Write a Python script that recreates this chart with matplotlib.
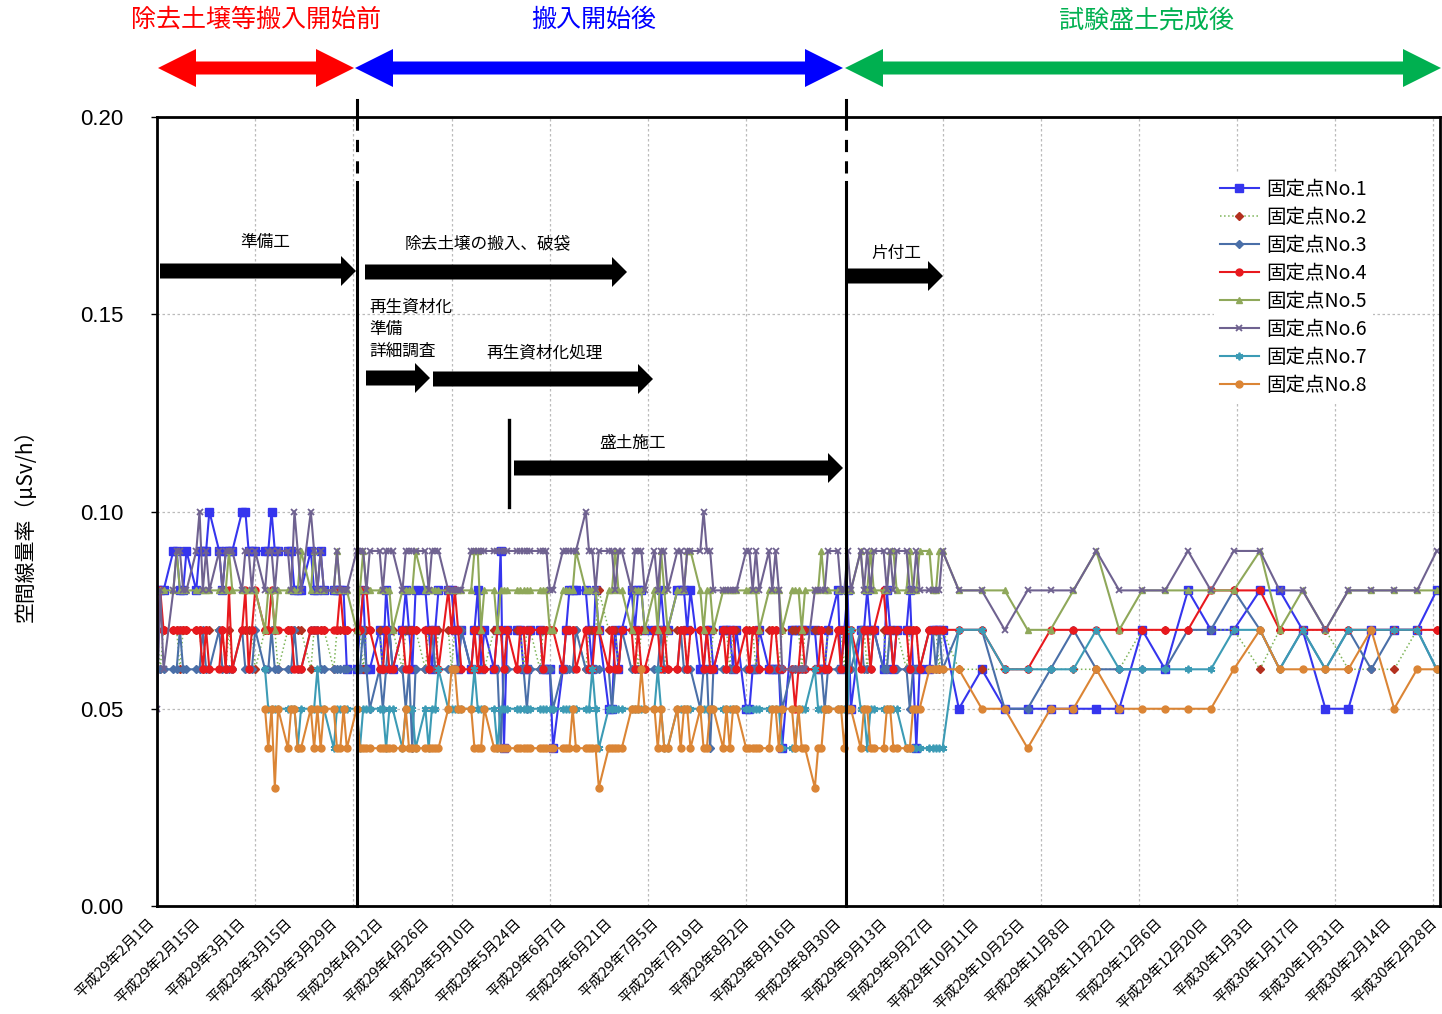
import numpy as np
import pandas as pd
import matplotlib
matplotlib.use('Agg')
import matplotlib.pyplot as plt
import matplotlib.transforms as mtransforms
from matplotlib.patches import Polygon
from matplotlib.lines import Line2D
from matplotlib.ticker import FixedLocator, FormatStrFormatter

JP = ['Noto Sans CJK JP', 'DejaVu Sans']
NUM = ['Liberation Sans', 'DejaVu Sans']
plt.rcParams['font.family'] = JP

# ---------------- data ----------------
# daily readings on business days, then weekly readings
daily_start, daily_end = '2017-02-01', '2017-09-29'
weekly_dates = ['2017-10-04', '2017-10-11', '2017-10-18', '2017-10-25', '2017-11-01',
                '2017-11-08', '2017-11-15', '2017-11-22', '2017-11-29', '2017-12-06',
                '2017-12-13', '2017-12-20', '2017-12-27', '2018-01-04', '2018-01-10',
                '2018-01-17', '2018-01-24', '2018-01-31', '2018-02-07', '2018-02-14',
                '2018-02-21', '2018-02-27']

# values in units of 0.01 uSv/h  (None = not measured)
p1_daily = [8,8,8,9,9,8,8,9,8,9,9,9,10,9,8,9,9,9,10,10,
            9,9,9,9,9,10,9,9,9,9,8,8,8,9,8,8,9,8,8,8,8,8,6,
            6,7,8,6,6,7,6,8,7,6,7,8,7,6,8,8,7,6,7,8,
            8,8,7,6,7,6,7,8,6,7,6,7,9,4,7,7,7,6,6,7,7,6,6,
            6,4,6,7,8,8,8,8,7,6,8,7,5,5,7,6,7,8,7,8,8,7,
            7,7,8,7,7,8,8,8,7,8,6,6,7,7,6,7,7,7,6,7,5,
            5,6,6,7,6,6,6,6,4,7,7,7,7,7,7,6,6,6,7,8,6,7,8,
            5,7,7,8,7,7,6,8,7,6,7,7,8,6,4,6,6,7,7,7,7]
p2_daily = [7,6,7,7,7,6,7,7,7,7,6,7,7,7,7,6,7,6,7,7,
            7,7,6,7,7,7,7,6,7,7,7,7,7,6,7,7,7,7,6,7,7,7,7,
            7,7,6,7,7,7,6,7,7,7,6,7,7,7,7,6,7,7,6,7,
            7,6,7,7,7,6,7,7,7,6,7,7,7,6,7,7,7,6,7,7,6,7,7,
            7,7,6,7,7,7,7,6,7,7,7,8,7,7,7,6,7,7,7,6,7,7,
            7,7,7,6,7,7,7,7,6,7,7,7,7,6,7,7,7,6,7,7,7,
            7,7,6,7,7,7,7,6,7,7,7,7,6,7,7,7,7,6,7,7,7,6,7,
            7,7,7,6,7,7,7,6,7,7,7,6,7,7,7,6,7,7,7,6,7]
p3_daily = [6,6,6,6,6,7,6,6,6,6,7,6,6,7,6,6,6,6,7,6,
            6,6,7,6,6,7,6,6,6,6,7,6,6,7,7,7,6,6,6,6,6,6,6,
            6,6,7,6,5,6,5,6,7,6,6,5,6,4,6,6,6,7,6,6,
            6,6,6,6,7,6,6,6,6,6,6,6,4,6,6,6,6,6,5,6,6,6,6,
            6,5,6,6,6,6,7,6,6,6,6,6,6,5,6,6,7,6,6,6,6,6,
            6,6,7,6,6,6,7,6,6,6,5,6,6,4,6,6,6,6,6,6,6,
            6,6,6,6,6,6,6,6,5,6,6,6,6,6,6,6,6,5,6,6,6,6,6,
            6,7,6,6,6,7,6,6,7,6,6,6,5,6,6,6,7,7,6,7,6]
p4_daily = [7,8,7,7,7,7,7,7,7,7,6,7,6,6,7,6,8,6,7,8,
            6,7,8,7,7,8,7,7,7,7,6,6,6,7,7,7,7,7,7,7,8,7,7,
            7,7,8,8,7,6,6,7,6,6,7,6,6,7,7,7,6,7,7,6,
            8,7,8,7,6,6,7,6,7,6,6,7,7,6,7,6,7,7,6,7,7,6,7,
            7,7,6,7,7,7,6,7,6,6,7,7,6,7,6,6,7,7,6,7,6,6,
            7,7,6,7,6,6,7,7,6,7,7,6,7,6,6,7,6,7,7,6,7,
            6,7,7,6,6,7,7,6,6,6,5,6,7,6,6,6,7,6,6,7,6,7,6,
            7,6,7,7,6,7,8,7,7,6,7,7,6,7,7,6,7,7,7,7,7]
p5_daily = [8,8,8,8,9,8,8,8,8,8,8,8,8,8,8,8,9,8,8,8,
            8,8,8,7,8,8,7,8,8,8,8,8,9,8,9,8,8,8,8,9,8,8,8,
            7,8,9,8,8,8,8,8,8,7,8,8,8,8,9,8,8,8,8,8,
            8,8,8,8,8,8,9,9,7,8,8,7,8,8,8,8,8,8,8,8,8,8,8,
            7,7,8,8,8,8,9,8,8,8,8,7,8,8,9,8,8,7,8,8,8,7,
            8,7,9,8,7,8,8,8,9,9,8,7,8,8,7,8,8,8,8,8,8,
            8,8,8,7,8,8,8,8,7,8,8,8,7,8,8,8,9,8,8,8,8,8,8,
            8,9,8,8,9,8,8,8,9,9,8,8,9,8,8,9,9,8,8,9,9]
p6_daily = [5,8,6,8,9,9,8,8,9,10,8,9,8,9,8,9,9,9,8,9,
            9,8,9,8,9,9,8,9,9,8,10,9,8,10,9,8,9,8,8,9,8,8,8,
            9,9,9,8,9,9,8,9,9,9,8,9,9,9,9,9,8,9,9,9,
            8,8,8,8,8,9,9,9,9,9,9,9,9,9,9,9,9,9,9,9,9,9,9,
            8,8,9,9,9,9,9,10,9,9,8,9,9,9,8,9,9,8,9,9,9,8,
            9,8,9,9,8,9,9,8,9,9,9,10,9,9,8,8,8,8,8,8,9,
            9,8,9,8,9,8,9,8,6,6,6,6,6,6,8,8,8,8,9,9,8,8,9,
            8,9,8,9,8,9,9,8,9,8,9,9,8,8,9,8,8,8,8,8,9]
p7_daily = [None] * 20 + [
            None,None,None,6,5,5,5,5,5,5,5,4,5,5,5,6,5,5,4,5,5,5,5,
            5,4,5,5,5,5,5,4,5,5,4,5,5,5,4,5,4,5,5,6,
            5,5,5,5,5,5,6,5,5,5,5,4,5,5,5,5,5,5,5,5,5,5,5,
            5,5,5,5,5,5,5,5,5,6,5,4,5,5,5,5,5,5,5,5,5,5,
            5,6,5,4,4,5,5,5,5,5,5,5,5,5,5,5,5,5,5,5,5,
            5,5,5,5,5,5,5,5,4,4,4,5,5,5,6,5,5,5,5,5,5,5,5,
            7,5,5,4,5,5,5,5,5,5,5,4,4,4,4,4,4,4,4,4,4]
p8_daily = [None] * 20 + [
            None,None,None,5,4,5,3,5,4,5,5,4,4,5,4,5,4,5,5,4,4,5,4,
            5,4,4,4,4,4,4,4,4,4,4,5,4,4,4,4,4,4,4,4,
            5,6,6,5,5,5,4,4,4,5,4,4,4,4,4,4,4,4,4,4,4,4,4,
            4,4,4,4,4,5,4,4,4,4,4,3,4,4,4,4,4,5,5,5,6,5,
            5,4,5,4,4,5,4,5,5,4,5,4,4,5,5,4,5,4,5,5,4,
            4,4,4,4,4,5,5,4,5,5,4,5,4,4,3,4,4,5,5,5,5,4,5,
            5,4,5,5,4,4,4,5,5,4,4,4,4,5,5,5,6,6,6,6,6]

p1_weekly = [5,6,5,5,5,5,5,5,7,6,8,7,7,8,8,7,5,5,7,7,7,8]
p2_weekly = [6,6,6,6,6,6,6,6,7,7,7,7,7,6,7,7,7,6,6,6,7,7]
p3_weekly = [7,7,5,5,6,7,6,6,6,6,7,7,8,7,6,7,6,7,6,7,7,6]
p4_weekly = [7,7,6,6,7,7,7,7,7,7,7,8,8,8,7,7,7,7,7,7,7,7]
p5_weekly = [8,8,8,7,7,8,9,7,8,8,8,8,8,9,7,8,7,8,8,8,8,8]
p6_weekly = [8,8,7,8,8,8,9,8,8,8,9,8,9,9,8,8,7,8,8,8,8,9]
p7_weekly = [7,7,6,6,6,6,7,6,6,6,6,6,7,7,6,7,6,7,7,7,7,6]
p8_weekly = [6,5,5,4,5,5,6,5,5,5,5,5,6,7,6,6,6,6,7,5,6,6]

series_names = ['固定点No.1', '固定点No.2', '固定点No.3', '固定点No.4',
                '固定点No.5', '固定点No.6', '固定点No.7', '固定点No.8']

tick_dates = ['2017-02-01', '2017-02-15', '2017-03-01', '2017-03-15', '2017-03-29',
              '2017-04-12', '2017-04-26', '2017-05-10', '2017-05-24', '2017-06-07',
              '2017-06-21', '2017-07-05', '2017-07-19', '2017-08-02', '2017-08-16',
              '2017-08-30', '2017-09-13', '2017-09-27', '2017-10-11', '2017-10-25',
              '2017-11-08', '2017-11-22', '2017-12-06', '2017-12-20', '2018-01-03',
              '2018-01-17', '2018-01-31', '2018-02-14', '2018-02-28']
tick_labels = ['平成29年2月1日', '平成29年2月15日', '平成29年3月1日', '平成29年3月15日',
               '平成29年3月29日', '平成29年4月12日', '平成29年4月26日', '平成29年5月10日',
               '平成29年5月24日', '平成29年6月7日', '平成29年6月21日', '平成29年7月5日',
               '平成29年7月19日', '平成29年8月2日', '平成29年8月16日', '平成29年8月30日',
               '平成29年9月13日', '平成29年9月27日', '平成29年10月11日', '平成29年10月25日',
               '平成29年11月8日', '平成29年11月22日', '平成29年12月6日', '平成29年12月20日',
               '平成30年1月3日', '平成30年1月17日', '平成30年1月31日', '平成30年2月14日',
               '平成30年2月28日']
grid_dates = ['2017-03-03', '2017-04-02', '2017-05-02', '2017-06-01', '2017-07-01',
              '2017-07-31', '2017-08-30', '2017-09-29', '2017-10-29', '2017-11-28',
              '2017-12-28', '2018-01-27', '2018-02-26']

# ---------------- styles ----------------
styles = [
    dict(color='#3535EE', marker='s', ms=5.5, lw=1.5, ls='-'),
    dict(color='#7DB458', marker='D', ms=3.8, lw=1.1, ls=':', mfc='#B3301F', mec='#B3301F'),
    dict(color='#4A6FA8', marker='D', ms=3.6, lw=1.5, ls='-'),
    dict(color='#E8191E', marker='o', ms=5.0, lw=1.5, ls='-'),
    dict(color='#8FA85A', marker='^', ms=4.0, lw=1.5, ls='-'),
    dict(color='#6F6290', marker='x', ms=5.0, lw=1.5, ls='-', mew=1.3),
    dict(color='#3C9BB5', marker=(6, 2, 0), ms=5.5, lw=1.5, ls='-', mew=1.3),
    dict(color='#DB8535', marker='o', ms=5.0, lw=1.5, ls='-'),
]

W, H = 1442, 1014
fig = plt.figure(figsize=(W / 100, H / 100), dpi=100)
ax = fig.add_axes([157 / W, 1 - 906 / H, (1440 - 157) / W, (906 - 117) / H])


def fx(x):
    return x / W


def fy(y):
    return 1 - y / H


dates = pd.bdate_range(daily_start, daily_end).append(pd.to_datetime(weekly_dates))
daily_lists = [p1_daily, p2_daily, p3_daily, p4_daily, p5_daily, p6_daily, p7_daily, p8_daily]
weekly_lists = [p1_weekly, p2_weekly, p3_weekly, p4_weekly, p5_weekly, p6_weekly, p7_weekly, p8_weekly]

for name, d, w, st in zip(series_names, daily_lists, weekly_lists, styles):
    vals = np.array([np.nan if v is None else v for v in d + w], dtype=float) / 100.0
    ax.plot(dates, vals, label=name, **st)

# axes
ax.set_xlim(pd.Timestamp('2017-02-01'), pd.Timestamp('2018-02-28'))
ax.set_ylim(0, 0.20)
ax.set_yticks([0.0, 0.05, 0.10, 0.15, 0.20])
ax.yaxis.set_major_formatter(FormatStrFormatter('%.2f'))
for lab in ax.get_yticklabels():
    lab.set_fontfamily(NUM)
    lab.set_fontsize(16)
ax.tick_params(axis='y', length=4, width=1, pad=20)

ax.set_xticks(pd.to_datetime(tick_dates))
ax.set_xticklabels(tick_labels, rotation=45, ha='right', va='top',
                   rotation_mode='anchor', fontsize=10.5)
ax.tick_params(axis='x', length=0, pad=7)
shift = mtransforms.ScaledTranslation(-10 / 100, 0, fig.dpi_scale_trans)
for lab in ax.get_xticklabels():
    lab.set_transform(lab.get_transform() + shift)
ax.xaxis.set_minor_locator(FixedLocator(
    [matplotlib.dates.date2num(pd.Timestamp(g)) for g in grid_dates]))
ax.tick_params(axis='x', which='minor', length=0)

ax.grid(which='minor', axis='x', color='#BBBBBB', ls=(0, (2, 2)), lw=0.9)
ax.grid(which='major', axis='y', color='#BBBBBB', ls=(0, (2, 2)), lw=0.9)
ax.grid(which='major', axis='x', visible=False)
for sp in ax.spines.values():
    sp.set_linewidth(2.0)
    sp.set_color('black')

fig.text(fx(26), fy(520), '空間線量率（μSv/h）', rotation=90, ha='center',
         va='center', fontsize=15)

leg = ax.legend(loc='upper left', bbox_to_anchor=(fx(1214), fy(173)),
                bbox_transform=fig.transFigure, fontsize=14, frameon=True,
                edgecolor='none', facecolor='white', framealpha=1.0,
                handlelength=2.0, labelspacing=0.36, borderpad=0.3,
                handletextpad=0.4, borderaxespad=0)


# ---------------- annotations (pixel positions) ----------------
def poly(pts, color):
    fig.add_artist(Polygon([(fx(x), fy(y)) for x, y in pts], closed=True,
                           transform=fig.transFigure, facecolor=color,
                           edgecolor='none', zorder=10))


def double_arrow(x0, x1, yc, color, hl=38, hh=19, sh=6.5):
    poly([(x0, yc), (x0 + hl, yc - hh), (x0 + hl, yc - sh), (x1 - hl, yc - sh),
          (x1 - hl, yc - hh), (x1, yc), (x1 - hl, yc + hh), (x1 - hl, yc + sh),
          (x0 + hl, yc + sh), (x0 + hl, yc + hh)], color)


def block_arrow(x0, x1, yc, hl=15, hh=15, sh=7.5, color='black'):
    poly([(x0, yc - sh), (x1 - hl, yc - sh), (x1 - hl, yc - hh), (x1, yc),
          (x1 - hl, yc + hh), (x1 - hl, yc + sh), (x0, yc + sh)], color)


def vline(x, y0, y1, dashed=False, lw=2.2):
    fig.add_artist(Line2D([fx(x), fx(x)], [fy(y0), fy(y1)], transform=fig.transFigure,
                          color='black', lw=lw, ls=(0, (4, 3)) if dashed else '-',
                          zorder=10))


double_arrow(158, 354, 68, '#FF0000')
double_arrow(355, 843, 68, '#0000FF')
double_arrow(845, 1441, 68, '#00B050')
fig.text(fx(256), fy(20), '除去土壌等搬入開始前', color='#FF0000', fontsize=18,
         ha='center', va='center')
fig.text(fx(594), fy(20), '搬入開始後', color='#0000FF', fontsize=18,
         ha='center', va='center')
fig.text(fx(1146), fy(20), '試験盛土完成後', color='#00B050', fontsize=18,
         ha='center', va='center')

for xl in (357, 846):
    vline(xl, 100, 118)
    vline(xl, 118, 182, dashed=True)
    vline(xl, 182, 906)

vline(509, 420, 507, lw=2.4)

block_arrow(160, 356, 271)
block_arrow(365, 627, 272)
block_arrow(366, 430, 378)
block_arrow(433, 653, 379)
block_arrow(514, 843, 468)
block_arrow(847, 943, 276)

fs = 12
fig.text(fx(265), fy(242), '準備工', fontsize=fs, ha='center', va='center')
fig.text(fx(488), fy(244), '除去土壌の搬入、破袋', fontsize=fs, ha='center', va='center')
fig.text(fx(369), fy(307), '再生資材化', fontsize=fs, ha='left', va='center')
fig.text(fx(369), fy(329), '準備', fontsize=fs, ha='left', va='center')
fig.text(fx(369), fy(351), '詳細調査', fontsize=fs, ha='left', va='center')
fig.text(fx(545), fy(353), '再生資材化処理', fontsize=fs, ha='center', va='center')
fig.text(fx(633), fy(443), '盛土施工', fontsize=fs, ha='center', va='center')
fig.text(fx(896), fy(253), '片付工', fontsize=fs, ha='center', va='center')

fig.savefig('out.png', dpi=100, facecolor='white')
